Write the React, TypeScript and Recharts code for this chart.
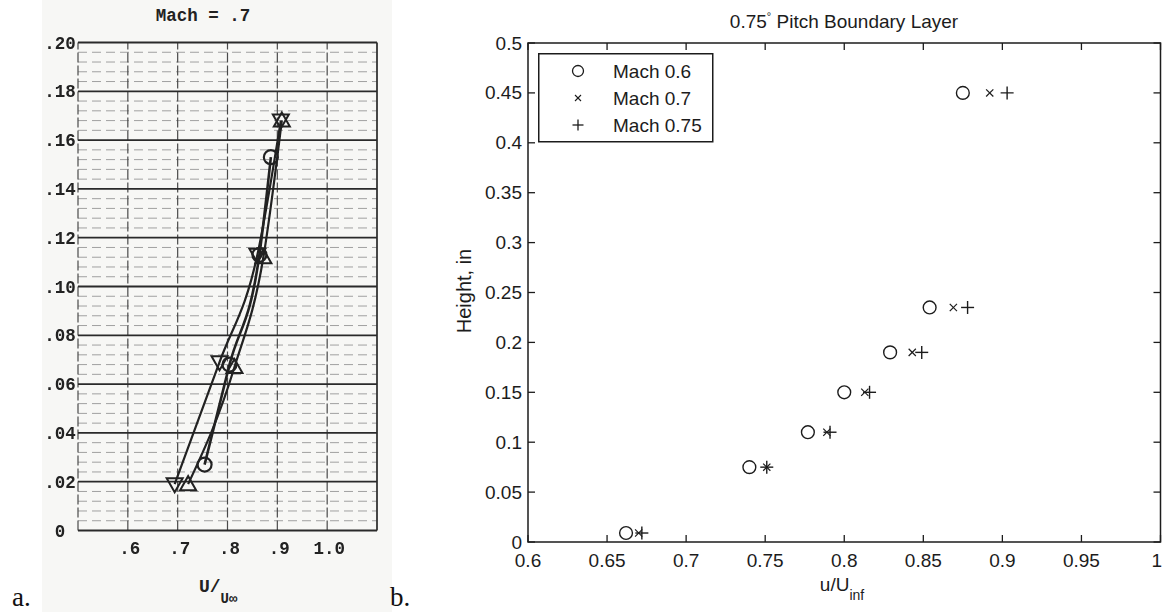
import React from 'react';
import {
  ComposedChart,
  ScatterChart,
  Scatter,
  Line,
  XAxis,
  YAxis,
  ReferenceLine,
  ReferenceArea,
  Legend,
} from 'recharts';

// ---------- Panel a: Mach = .7 velocity profiles ----------
const aTickX = [0.6, 0.7, 0.8, 0.9, 1.0];
const aTickXLabels = ['.6', '.7', '.8', '.9', '1.0'];
const aTickY = [0, 0.02, 0.04, 0.06, 0.08, 0.1, 0.12, 0.14, 0.16, 0.18, 0.2];
const aTickYLabels = ['0', '.02', '.04', '.06', '.08', '.10', '.12', '.14', '.16', '.18', '.20'];

const aCircleU = [0.754, 0.804, 0.864, 0.887];
const aCircleH = [0.027, 0.068, 0.113, 0.153];
const aTriUpU = [0.721, 0.814, 0.872, 0.909];
const aTriUpH = [0.019, 0.067, 0.112, 0.168];
const aTriDownU = [0.694, 0.784, 0.86, 0.907];
const aTriDownH = [0.019, 0.069, 0.113, 0.168];

// ---------- Panel b: 0.75 deg pitch boundary layer ----------
const bTickX = [0.6, 0.65, 0.7, 0.75, 0.8, 0.85, 0.9, 0.95, 1];
const bTickXLabels = ['0.6', '0.65', '0.7', '0.75', '0.8', '0.85', '0.9', '0.95', '1'];
const bTickY = [0, 0.05, 0.1, 0.15, 0.2, 0.25, 0.3, 0.35, 0.4, 0.45, 0.5];
const bTickYLabels = ['0', '0.05', '0.1', '0.15', '0.2', '0.25', '0.3', '0.35', '0.4', '0.45', '0.5'];

const heights = [0.009, 0.075, 0.11, 0.15, 0.19, 0.235, 0.45];
const mach06 = [0.662, 0.74, 0.777, 0.8, 0.829, 0.854, 0.875];
const mach07 = [0.67, 0.751, 0.789, 0.813, 0.843, 0.869, 0.892];
const mach075 = [0.672, 0.751, 0.791, 0.816, 0.849, 0.878, 0.903];

const zip = (u: number[], h: number[]) => u.map((x, i) => ({ x, y: h[i] }));

const aCircle = zip(aCircleU, aCircleH);
const aTriUp = zip(aTriUpU, aTriUpH);
const aTriDown = zip(aTriDownU, aTriDownH);
const b06 = zip(mach06, heights);
const b07 = zip(mach07, heights);
const b075 = zip(mach075, heights);

// minor grid every .004 between the major .02 lines
const aMinorY: number[] = [];
for (let k = 0; k < 50; k++) {
  if (k % 5 !== 0) aMinorY.push(+(k * 0.004).toFixed(3));
}

const INK = '#1c1c1c';
const SCAN = '#222';
const MONO = "'Liberation Mono', 'DejaVu Sans Mono', monospace";
const SANS = "'Liberation Sans', Arial, sans-serif";
const SERIF = "'Liberation Serif', 'DejaVu Serif', serif";

const AXIS_W = 50; // reserved width of the y axes
const AXIS_H = 30; // reserved height of the x axes

// plot geometry of panel b (used for mirrored top/right tick marks)
const B_W = 772;
const B_H = 612;
const B_PLOT = { left: 138, right: 770.5, top: 43, bottom: 542 };
const B_MARGIN = {
  top: B_PLOT.top,
  right: B_W - B_PLOT.right,
  bottom: B_H - B_PLOT.bottom - AXIS_H,
  left: B_PLOT.left - AXIS_W,
};
const B_PLOT_W = B_PLOT.right - B_PLOT.left;
const B_PLOT_H = B_PLOT.bottom - B_PLOT.top;

const A_W = 390;
const A_H = 612;
const A_PLOT = { left: 78, right: 377, top: 42.5, bottom: 530.5 };
const A_MARGIN = {
  top: A_PLOT.top,
  right: A_W - A_PLOT.right,
  bottom: A_H - A_PLOT.bottom - AXIS_H,
  left: A_PLOT.left - AXIS_W,
};

// ---------- tick renderers ----------
const ATickX = (p: any) => {
  const i = aTickX.indexOf(p.payload.value);
  return (
    <text x={p.x + 2} y={p.y + 23.5} textAnchor="middle" fontFamily={MONO} fontWeight={700} fontSize={17.5} fill={SCAN}>
      {aTickXLabels[i]}
    </text>
  );
};

const ATickY = (p: any) => {
  const i = aTickY.indexOf(p.payload.value);
  return (
    <text x={p.x - 18} y={p.y + 6} textAnchor="middle" fontFamily={MONO} fontWeight={700} fontSize={17.5} fill={SCAN}>
      {aTickYLabels[i]}
    </text>
  );
};

const BTickX = (p: any) => {
  const i = bTickX.indexOf(p.payload.value);
  const last = i === bTickX.length - 1;
  return (
    <g>
      <line x1={p.x} y1={p.y} x2={p.x} y2={p.y - 7} stroke={INK} strokeWidth={1.3} />
      <line x1={p.x} y1={p.y - B_PLOT_H} x2={p.x} y2={p.y - B_PLOT_H + 7} stroke={INK} strokeWidth={1.3} />
      <text
        x={last ? p.x + 1.5 : p.x}
        y={p.y + 25}
        textAnchor={last ? 'end' : 'middle'}
        fontFamily={SANS}
        fontSize={19}
        fill={INK}
      >
        {bTickXLabels[i]}
      </text>
    </g>
  );
};

const BTickY = (p: any) => {
  const i = bTickY.indexOf(p.payload.value);
  return (
    <g>
      <line x1={p.x} y1={p.y} x2={p.x + 7} y2={p.y} stroke={INK} strokeWidth={1.3} />
      <line x1={p.x + B_PLOT_W} y1={p.y} x2={p.x + B_PLOT_W - 7} y2={p.y} stroke={INK} strokeWidth={1.3} />
      <text x={p.x - 6} y={p.y + 6.5} textAnchor="end" fontFamily={SANS} fontSize={19} fill={INK}>
        {bTickYLabels[i]}
      </text>
    </g>
  );
};

// ---------- markers ----------
const circleDot = (p: any) => (
  <circle key={`c${p.index}`} cx={p.cx} cy={p.cy} r={7} fill="none" stroke={SCAN} strokeWidth={2.2} />
);
const triUpDot = (p: any) => (
  <path
    key={`u${p.index}`}
    d={`M${p.cx - 8},${p.cy + 6} L${p.cx + 8},${p.cy + 6} L${p.cx},${p.cy - 8} Z`}
    fill="none"
    stroke={SCAN}
    strokeWidth={2}
  />
);
const triDownDot = (p: any) => (
  <path
    key={`d${p.index}`}
    d={`M${p.cx - 8},${p.cy - 6} L${p.cx + 8},${p.cy - 6} L${p.cx},${p.cy + 8} Z`}
    fill="none"
    stroke={SCAN}
    strokeWidth={2}
  />
);

const OMark = (p: any) => <circle cx={p.cx} cy={p.cy} r={6.4} fill="none" stroke={INK} strokeWidth={1.4} />;
const XMark = (p: any) => (
  <g stroke={INK} strokeWidth={1.2}>
    <line x1={p.cx - 3.6} y1={p.cy - 3.6} x2={p.cx + 3.6} y2={p.cy + 3.6} />
    <line x1={p.cx - 3.6} y1={p.cy + 3.6} x2={p.cx + 3.6} y2={p.cy - 3.6} />
  </g>
);
const PlusMark = (p: any) => (
  <g stroke={INK} strokeWidth={1.4}>
    <line x1={p.cx - 6.5} y1={p.cy} x2={p.cx + 6.5} y2={p.cy} />
    <line x1={p.cx} y1={p.cy - 6.5} x2={p.cx} y2={p.cy + 6.5} />
  </g>
);

const legendEntries = ['Mach 0.6', 'Mach 0.7', 'Mach 0.75'];

const BLegend = () => (
  <svg width={176} height={90} style={{ display: 'block' }}>
    <rect x={0.75} y={0.75} width={174} height={88} fill="#fff" stroke={INK} strokeWidth={1.5} />
    <circle cx={40} cy={18} r={5.5} fill="none" stroke={INK} strokeWidth={1.3} />
    <g stroke={INK} strokeWidth={1.1}>
      <line x1={37} y1={42} x2={43} y2={48} />
      <line x1={37} y1={48} x2={43} y2={42} />
    </g>
    <g stroke={INK} strokeWidth={1.3}>
      <line x1={34.5} y1={72} x2={45.5} y2={72} />
      <line x1={40} y1={66.5} x2={40} y2={77.5} />
    </g>
    {legendEntries.map((t, i) => (
      <text key={t} x={75} y={24.5 + i * 27} fontFamily={SANS} fontSize={19} fill={INK}>
        {t}
      </text>
    ))}
  </svg>
);

export default function App() {
  return (
    <div
      style={{
        position: 'fixed',
        left: 0,
        top: 0,
        width: 1162,
        height: 612,
        background: '#fff',
        overflow: 'hidden',
      }}
    >
      {/* paper tone behind the scanned panel */}
      <div style={{ position: 'absolute', left: 42, top: 0, width: 350, height: 612, background: '#f7f7f5' }} />

      {/* Panel a */}
      <div style={{ position: 'absolute', left: 0, top: 0, filter: 'blur(0.45px)' }}>
        <ComposedChart width={A_W} height={A_H} margin={A_MARGIN}>
          <XAxis
            type="number"
            dataKey="x"
            domain={[0.5, 1.1]}
            ticks={aTickX}
            interval={0}
            allowDataOverflow
            axisLine={false}
            tickLine={false}
            tickSize={0}
            tickMargin={0}
            height={AXIS_H}
            tick={ATickX}
          />
          <YAxis
            type="number"
            dataKey="y"
            domain={[0, 0.2]}
            ticks={aTickY}
            interval={0}
            allowDataOverflow
            axisLine={false}
            tickLine={false}
            tickSize={0}
            tickMargin={0}
            width={AXIS_W}
            tick={ATickY}
          />
          {aMinorY.map((v) => (
            <ReferenceLine key={`m${v}`} y={v} stroke="#a0a0a0" strokeWidth={1} strokeDasharray="9 5" />
          ))}
          {aTickX.map((v) => (
            <ReferenceLine key={`v${v}`} x={v} stroke="#4a4a4a" strokeWidth={1.2} strokeDasharray="10 3" />
          ))}
          <ReferenceLine x={0.5} stroke="#4a4a4a" strokeWidth={1.2} strokeDasharray="10 3" />
          <ReferenceLine x={1.1} stroke="#333" strokeWidth={1.8} />
          {aTickY.map((v) => (
            <ReferenceLine key={`h${v}`} y={v} stroke="#2a2a2a" strokeWidth={v === 0 ? 2.2 : 1.8} />
          ))}
          <Line
            data={aTriDown}
            dataKey="y"
            type="monotone"
            stroke={SCAN}
            strokeWidth={2.2}
            dot={triDownDot}
            isAnimationActive={false}
          />
          <Line
            data={aTriUp}
            dataKey="y"
            type="monotone"
            stroke={SCAN}
            strokeWidth={2.2}
            dot={triUpDot}
            isAnimationActive={false}
          />
          <Line
            data={aCircle}
            dataKey="y"
            type="monotone"
            stroke={SCAN}
            strokeWidth={2.6}
            dot={circleDot}
            isAnimationActive={false}
          />
        </ComposedChart>
      </div>

      {/* Panel b */}
      <div style={{ position: 'absolute', left: 390, top: 0 }}>
        <ScatterChart width={B_W} height={B_H} margin={B_MARGIN}>
          <XAxis
            type="number"
            dataKey="x"
            domain={[0.6, 1]}
            ticks={bTickX}
            interval={0}
            allowDataOverflow
            axisLine={false}
            tickLine={false}
            tickSize={0}
            tickMargin={0}
            height={AXIS_H}
            tick={BTickX}
          />
          <YAxis
            type="number"
            dataKey="y"
            domain={[0, 0.5]}
            ticks={bTickY}
            interval={0}
            allowDataOverflow
            axisLine={false}
            tickLine={false}
            tickSize={0}
            tickMargin={0}
            width={AXIS_W}
            tick={BTickY}
          />
          <ReferenceArea x1={0.6} x2={1} y1={0} y2={0.5} fill="none" stroke={INK} strokeWidth={1.5} ifOverflow="visible" />
          <Scatter name="Mach 0.6" data={b06} shape={OMark} isAnimationActive={false} />
          <Scatter name="Mach 0.7" data={b07} shape={XMark} isAnimationActive={false} />
          <Scatter name="Mach 0.75" data={b075} shape={PlusMark} isAnimationActive={false} />
          <Legend
            layout="vertical"
            align="center"
            verticalAlign="middle"
            content={BLegend}
            wrapperStyle={{ left: 148, top: 53, width: 176, height: 90 }}
          />
        </ScatterChart>
      </div>

      {/* titles, axis labels and panel letters */}
      <svg width={1162} height={612} style={{ position: 'absolute', left: 0, top: 0, pointerEvents: 'none' }}>
        <text x={203} y={21} textAnchor="middle" fontFamily={MONO} fontWeight={700} fontSize={17.5} fill={SCAN}>
          Mach = .7
        </text>
        <text x={199} y={592} fontFamily={MONO} fontWeight={700} fontSize={18} fill={SCAN}>
          U/
          <tspan dy={11} fontSize={14}>
            U∞
          </tspan>
        </text>
        <text x={12} y={606} fontFamily={SERIF} fontSize={27} fill="#111">
          a.
        </text>
        <text x={390} y={606} fontFamily={SERIF} fontSize={27} fill="#111">
          b.
        </text>

        <text x={844} y={28} textAnchor="middle" fontFamily={SANS} fontSize={19} fill={INK}>
          0.75
          <tspan dy={-8} fontSize={11}>
            °
          </tspan>
          <tspan dy={8}> Pitch Boundary Layer</tspan>
        </text>
        <text
          transform="translate(471,291) rotate(-90)"
          textAnchor="middle"
          fontFamily={SANS}
          fontSize={20}
          fill={INK}
        >
          Height, in
        </text>
        <text x={842} y={591} textAnchor="middle" fontFamily={SANS} fontSize={19} fill={INK}>
          u/U
          <tspan dy={9} fontSize={14}>
            inf
          </tspan>
        </text>
      </svg>
    </div>
  );
}
